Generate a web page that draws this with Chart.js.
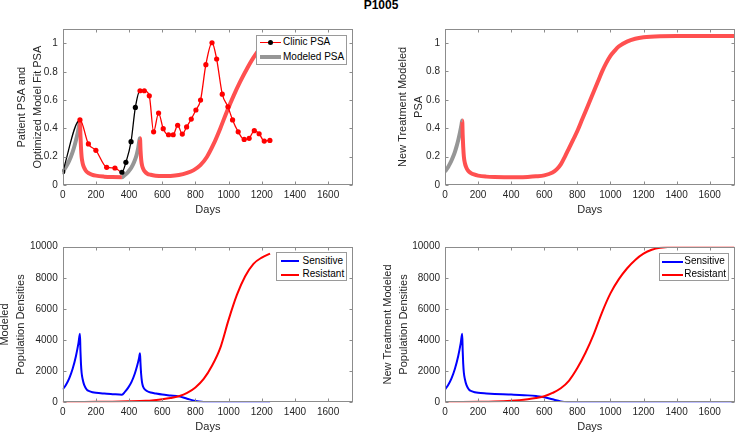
<!DOCTYPE html>
<html>
<head>
<meta charset="utf-8">
<script src="https://cdn.jsdelivr.net/npm/chart.js@4.4.1/dist/chart.umd.min.js"></script>
<style>
  body { margin: 0; background: #fff; font-family: 'Liberation Sans', Arial, Helvetica, sans-serif; }
  #page { position: relative; width: 736px; height: 435px; overflow: hidden; background: #fff; }
  #page canvas { position: absolute; }
  .suptitle { position: absolute; left: 331px; width: 100px; top: -1px; text-align: center; font-weight: bold; font-size: 12px; line-height: 12px; color: #000; }
  .legend { position: absolute; background: #fff; border: 1px solid #9a9a9a; box-sizing: border-box; }
  .legend .swatch { position: absolute; }
  .legend .dot { position: absolute; width: 5px; height: 5px; border-radius: 50%; }
  .legend .label { position: absolute; font-size: 10px; line-height: 12px; color: #000; white-space: nowrap; }
</style>
</head>
<body>
<div id="page">
  <div class="suptitle">P1005</div>
  <canvas id="psaChart" width="368" height="218" style="left:0;top:0"></canvas>
  <canvas id="newPsaChart" width="368" height="218" style="left:368px;top:0"></canvas>
  <canvas id="popChart" width="368" height="217" style="left:0;top:218px"></canvas>
  <canvas id="newPopChart" width="368" height="217" style="left:368px;top:218px"></canvas>
</div>
<script>
// ---- data ----
var dayTicks = [0, 200, 400, 600, 800, 1000, 1200, 1400, 1600];
var psaTicks = [0, 0.2, 0.4, 0.6, 0.8, 1];
var popTicks = [0, 2000, 4000, 6000, 8000, 10000];

// clinic PSA, 1 = on treatment (black)
var clinicDays = [0, 104, 155, 200, 265, 315, 357, 381, 412, 438, 466, 492, 522, 548, 578, 606, 638, 666, 693, 721, 747, 775, 803, 831, 863, 900, 928, 962, 996, 1024, 1058, 1094, 1124, 1155, 1184, 1215, 1249];
var clinicPSA = [0.094, 0.46, 0.29, 0.245, 0.125, 0.12, 0.09, 0.16, 0.306, 0.548, 0.666, 0.666, 0.63, 0.376, 0.508, 0.398, 0.355, 0.355, 0.422, 0.36, 0.41, 0.466, 0.53, 0.6, 0.85, 1.005, 0.89, 0.642, 0.553, 0.46, 0.376, 0.322, 0.33, 0.384, 0.362, 0.31, 0.315];
var clinicOnTx = [1, 0, 0, 0, 0, 0, 1, 1, 1, 1, 0, 0, 0, 0, 0, 0, 0, 0, 0, 0, 0, 0, 0, 0, 0, 0, 0, 0, 0, 0, 0, 0, 0, 0, 0, 0, 0];

// modeled PSA (fit), 1 = on treatment (grey)
var modelDays = [0, 10, 20, 30, 40, 50, 60, 70, 80, 90, 100, 104,
  107, 110, 114, 120, 128, 140, 155, 175, 200, 250, 300, 357,
  370, 385, 400, 415, 430, 445, 455, 466,
  469, 473, 478, 485, 495, 510, 530, 560, 600, 650, 700, 750, 790, 830, 870, 910, 950, 990, 1030, 1070, 1110, 1150, 1200, 1250];
var modelPSA = [0.095, 0.111, 0.129, 0.15, 0.174, 0.202, 0.234, 0.272, 0.316, 0.367, 0.427, 0.455,
  0.35, 0.27, 0.2, 0.155, 0.125, 0.1, 0.085, 0.074, 0.066, 0.059, 0.056, 0.055,
  0.066, 0.08, 0.1, 0.125, 0.16, 0.21, 0.26, 0.33,
  0.25, 0.18, 0.14, 0.115, 0.095, 0.08, 0.072, 0.066, 0.063, 0.064, 0.07, 0.085, 0.105, 0.14, 0.2, 0.29, 0.4, 0.52, 0.63, 0.73, 0.82, 0.9, 0.98, 1.03];
var modelOnTx = [1, 1, 1, 1, 1, 1, 1, 1, 1, 1, 1, 1,
  0, 0, 0, 0, 0, 0, 0, 0, 0, 0, 0, 0,
  1, 1, 1, 1, 1, 1, 1, 1,
  0, 0, 0, 0, 0, 0, 0, 0, 0, 0, 0, 0, 0, 0, 0, 0, 0, 0, 0, 0, 0, 0, 0, 0];

// new treatment modeled PSA
var newDays = [0, 10, 20, 30, 40, 50, 60, 70, 80, 90, 100, 104,
  107, 110, 114, 120, 128, 140, 155, 175, 200, 250, 300, 357,
  400, 450, 500, 550, 600, 650, 675, 700, 725, 750, 775, 800, 825, 850, 875, 900, 925, 950, 975, 1000, 1025, 1050, 1100, 1150, 1200, 1300, 1400, 1550, 1750];
var newPSA = [0.095, 0.111, 0.129, 0.15, 0.174, 0.202, 0.234, 0.272, 0.316, 0.367, 0.427, 0.455,
  0.35, 0.27, 0.2, 0.155, 0.125, 0.1, 0.085, 0.074, 0.066, 0.059, 0.056, 0.055,
  0.055, 0.055, 0.057, 0.061, 0.068, 0.088, 0.11, 0.145, 0.2, 0.26, 0.32, 0.38, 0.45, 0.52, 0.59, 0.66, 0.73, 0.8, 0.86, 0.91, 0.945, 0.975, 1.01, 1.03, 1.04, 1.048, 1.05, 1.05, 1.05];
var newOnTx = [1, 1, 1, 1, 1, 1, 1, 1, 1, 1, 1, 1,
  0, 0, 0, 0, 0, 0, 0, 0, 0, 0, 0, 0,
  0, 0, 0, 0, 0, 0, 0, 0, 0, 0, 0, 0, 0, 0, 0, 0, 0, 0, 0, 0, 0, 0, 0, 0, 0, 0, 0, 0, 0];

// modeled population densities
var sensDays = [0, 20, 40, 60, 80, 95, 104, 107, 110, 114, 120, 130, 145, 160, 180, 200, 250, 300, 357,
  375, 395, 415, 435, 450, 460, 466, 469, 473, 478, 485, 495, 510, 530, 560, 600, 650, 700, 750, 800, 850, 900, 950, 1000, 1100, 1250];
var sensVals = [820, 1130, 1560, 2160, 2980, 3800, 4400, 3300, 2500, 1900, 1500, 1100, 820, 720, 650, 610, 560, 525, 490,
  670, 940, 1310, 1850, 2390, 2840, 3150, 2500, 1800, 1300, 1000, 830, 710, 630, 570, 500, 440, 380, 230, 90, 25, 6, 2, 0, 0, 0];
var resDays = [0, 100, 200, 300, 400, 500, 550, 600, 650, 700, 750, 800, 850, 900, 950, 1000, 1050, 1100, 1150, 1200, 1250];
var resVals = [20, 25, 30, 40, 60, 95, 135, 190, 270, 390, 600, 950, 1500, 2350, 3500, 5300, 6900, 8100, 8900, 9300, 9550];

// new treatment population densities
var newSensDays = [0, 20, 40, 60, 80, 95, 104, 107, 110, 114, 120, 130, 145, 160, 180, 200,
  250, 300, 350, 400, 450, 500, 550, 600, 650, 700, 750, 800, 850, 1000, 1750];
var newSensVals = [820, 1130, 1560, 2160, 2980, 3800, 4400, 3300, 2500, 1900, 1500, 1100, 820, 720, 650, 610,
  570, 540, 515, 495, 475, 445, 400, 330, 190, 60, 12, 2, 0, 0, 0];
var newResDays = [0, 100, 200, 300, 400, 450, 500, 550, 600, 650, 700, 750, 800, 850, 900, 950, 1000, 1050, 1100, 1150, 1200, 1250, 1300, 1400, 1750];
var newResVals = [20, 25, 35, 55, 100, 140, 200, 280, 390, 600, 900, 1400, 2200, 3200, 4400, 5800, 7000, 7900, 8600, 9150, 9550, 9800, 9930, 10000, 10000];

// ---- helpers ----
var RED = '#ff0000', BLUE = '#0000ff', FIT_RED = '#ff5050', FIT_GREY = '#969696';

function xy(xs, ys) {
  return xs.map(function(x, i) { return {x: x, y: ys[i]}; });
}

Chart.defaults.font.family = "'Liberation Sans', Arial, Helvetica, sans-serif";
Chart.defaults.color = '#262626';
Chart.defaults.animation = false;

// matlab style box with inward ticks on all four sides
var boxTicks = {
  id: 'boxTicks',
  afterDatasetsDraw: function(chart) {
    var ctx = chart.ctx, a = chart.chartArea, xs = chart.scales.x, ys = chart.scales.y;
    var L = Math.round(a.left) + 0.5, R = Math.round(a.right) - 0.5;
    var T = Math.round(a.top) + 0.5, B = Math.round(a.bottom) - 0.5;
    ctx.save();
    ctx.strokeStyle = '#8c8c8c';
    ctx.lineWidth = 1;
    ctx.strokeRect(L, T, R - L, B - T);
    ctx.beginPath();
    xs.ticks.forEach(function(t) {
      var px = Math.round(xs.getPixelForValue(t.value)) + 0.5;
      ctx.moveTo(px, B); ctx.lineTo(px, B - 3);
      ctx.moveTo(px, T); ctx.lineTo(px, T + 3);
    });
    ys.ticks.forEach(function(t) {
      var py = Math.round(ys.getPixelForValue(t.value)) + 0.5;
      ctx.moveTo(L, py); ctx.lineTo(L + 3, py);
      ctx.moveTo(R, py); ctx.lineTo(R - 3, py);
    });
    ctx.stroke();
    ctx.restore();
  }
};

function makeOptions(o) {
  return {
    responsive: false,
    devicePixelRatio: 1,
    animation: false,
    layout: { padding: { left: 0, top: o.top, right: o.right, bottom: 0 } },
    plugins: { legend: { display: false }, tooltip: { enabled: false } },
    elements: { line: { tension: 0.35, cubicInterpolationMode: 'monotone' } },
    scales: {
      x: {
        type: 'linear', min: 0, max: 1750,
        afterBuildTicks: function(s) { s.ticks = dayTicks.map(function(v) { return {value: v}; }); },
        afterFit: function(s) { s.height = o.xh; },
        grid: { display: false, drawTicks: false }, border: { display: false },
        ticks: { font: { size: 10 }, padding: 4, maxRotation: 0, autoSkip: false,
                 callback: function(v) { return String(v); } },
        title: { display: true, text: 'Days', font: { size: 11, lineHeight: 1.45 }, padding: { top: 0, bottom: 0 } }
      },
      y: {
        type: 'linear', min: 0, max: o.yMax,
        afterBuildTicks: function(s) { s.ticks = o.yTicks.map(function(v) { return {value: v}; }); },
        afterFit: function(s) { s.width = o.yw; },
        grid: { display: false, drawTicks: false }, border: { display: false },
        ticks: { font: { size: 10 }, padding: 5, autoSkip: false,
                 callback: function(v) { return String(v); } },
        title: { display: true, text: o.yTitle, font: { size: 11, lineHeight: 1.45 }, padding: { top: o.yTitlePad, bottom: 0 } }
      }
    }
  };
}

// html legend drawn from the chart's datasets
function htmlLegend(chart, box) {
  var el = document.createElement('div');
  el.className = 'legend';
  el.style.left = box.left + 'px';
  el.style.top = box.top + 'px';
  el.style.width = box.w + 'px';
  el.style.height = box.h + 'px';
  chart.data.datasets.forEach(function(ds, i) {
    var ry = box.rows[i];
    var sw = document.createElement('div');
    sw.className = 'swatch';
    sw.style.left = box.sx + 'px';
    sw.style.width = box.sw + 'px';
    sw.style.top = (ry - ds.borderWidth / 2) + 'px';
    sw.style.height = ds.borderWidth + 'px';
    sw.style.background = ds.borderColor;
    el.appendChild(sw);
    if (ds.legendMarker) {
      var dot = document.createElement('div');
      dot.className = 'dot';
      dot.style.left = (box.sx + box.sw / 2 - 2.5) + 'px';
      dot.style.top = (ry - 2.5) + 'px';
      dot.style.background = ds.legendMarker;
      el.appendChild(dot);
    }
    var lab = document.createElement('span');
    lab.className = 'label';
    lab.style.left = box.tx + 'px';
    lab.style.top = (ry - 6.5) + 'px';
    lab.textContent = ds.label;
    el.appendChild(lab);
  });
  document.getElementById('page').appendChild(el);
}

function pointColors(flags) {
  return flags.map(function(f) { return f ? '#000000' : RED; });
}

// ---- patient PSA and fit ----
var psaChart = new Chart(document.getElementById('psaChart'), {
  type: 'line',
  data: {
    datasets: [{
      label: 'Clinic PSA',
      data: xy(clinicDays, clinicPSA),
      borderColor: RED,
      borderWidth: 1.3,
      tension: 0,
      pointRadius: 2.6,
      pointBorderWidth: 0,
      pointBackgroundColor: pointColors(clinicOnTx),
      legendMarker: '#000000',
      segment: { borderColor: function(c) { return clinicOnTx[c.p0DataIndex] ? '#000000' : RED; } }
    }, {
      label: 'Modeled PSA',
      data: xy(modelDays, modelPSA),
      borderColor: FIT_GREY,
      borderWidth: 4,
      pointRadius: 0,
      segment: { borderColor: function(c) { return modelOnTx[c.p1DataIndex] ? FIT_GREY : FIT_RED; } }
    }]
  },
  options: makeOptions({ top: 29.3, right: 15, xh: 33, yw: 62.7, yMax: 1.1, yTicks: psaTicks,
    yTitle: ['Patient PSA and', 'Optimized Model Fit PSA'], yTitlePad: 14 }),
  plugins: [boxTicks]
});
htmlLegend(psaChart, { left: 256, top: 35, w: 91, h: 29.5, rows: [6.7, 21], sx: 3, sw: 21, tx: 26 });

// ---- new treatment PSA ----
var newPsaChart = new Chart(document.getElementById('newPsaChart'), {
  type: 'line',
  data: {
    datasets: [{
      label: 'New Treatment PSA',
      data: xy(newDays, newPSA),
      borderColor: FIT_RED,
      borderWidth: 4,
      pointRadius: 0,
      segment: { borderColor: function(c) { return newOnTx[c.p1DataIndex] ? FIT_GREY : FIT_RED; } }
    }]
  },
  options: makeOptions({ top: 28.8, right: 1.5, xh: 33, yw: 77, yMax: 1.1, yTicks: psaTicks,
    yTitle: ['New Treatment Modeled', 'PSA'], yTitlePad: 27 }),
  plugins: [boxTicks]
});

// ---- population densities ----
var popChart = new Chart(document.getElementById('popChart'), {
  type: 'line',
  data: {
    datasets: [{
      label: 'Sensitive', data: xy(sensDays, sensVals),
      borderColor: BLUE, borderWidth: 2, pointRadius: 0, order: 1
    }, {
      label: 'Resistant', data: xy(resDays, resVals),
      borderColor: RED, borderWidth: 2, pointRadius: 0, order: 0
    }]
  },
  options: makeOptions({ top: 28.7, right: 15, xh: 32.7, yw: 62.7, yMax: 10000, yTicks: popTicks,
    yTitle: ['Modeled', 'Population Densities'], yTitlePad: -3 }),
  plugins: [boxTicks]
});
htmlLegend(popChart, { left: 276, top: 252, w: 71, h: 29, rows: [8, 21.5], sx: 3.5, sw: 18.5, tx: 25.5 });

var newPopChart = new Chart(document.getElementById('newPopChart'), {
  type: 'line',
  data: {
    datasets: [{
      label: 'Sensitive', data: xy(newSensDays, newSensVals),
      borderColor: BLUE, borderWidth: 2, pointRadius: 0, order: 1
    }, {
      label: 'Resistant', data: xy(newResDays, newResVals),
      borderColor: RED, borderWidth: 2, pointRadius: 0, order: 0
    }]
  },
  options: makeOptions({ top: 28.7, right: 1.5, xh: 32.7, yw: 77, yMax: 10000, yTicks: popTicks,
    yTitle: ['New Treatment Modeled', 'Population Densities'], yTitlePad: 12 }),
  plugins: [boxTicks]
});
htmlLegend(newPopChart, { left: 658.5, top: 252.5, w: 70.5, h: 28.5, rows: [8.2, 21.2], sx: 2.5, sw: 20.7, tx: 24.8 });
</script>
</body>
</html>
